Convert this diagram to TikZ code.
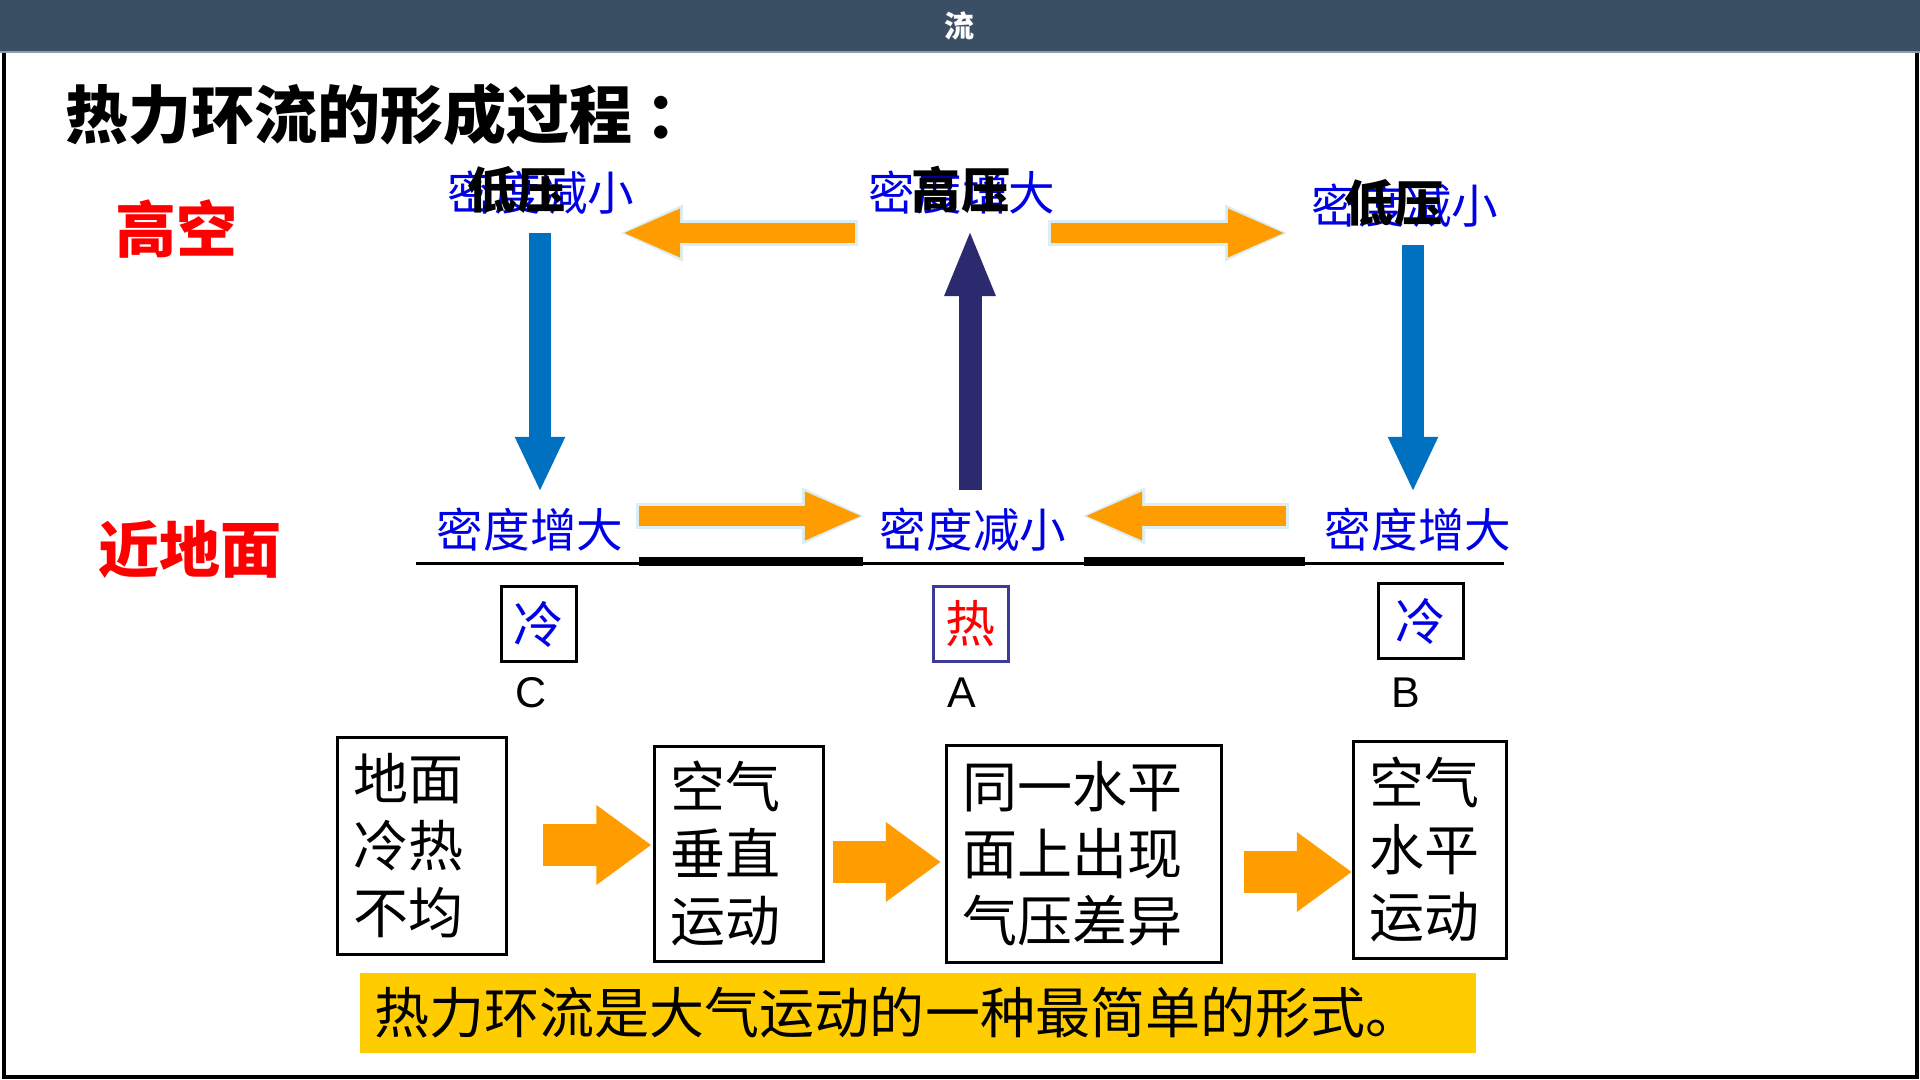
\documentclass[tikz,border=0pt]{standalone}
\usepackage{fontspec}
\setmainfont{Noto Sans CJK SC}
\newfontfamily\latinfont{Liberation Sans}
\usetikzlibrary{arrows.meta,calc}
\definecolor{barblue}{HTML}{3B4F64}
\definecolor{barline}{HTML}{8E9AA6}
\definecolor{densblue}{HTML}{0000E6}
\definecolor{hotred}{HTML}{FF0000}
\definecolor{downblue}{HTML}{0070C0}
\definecolor{upnavy}{HTML}{2B2A6E}
\definecolor{flowor}{HTML}{FF9C00}
\definecolor{flowedge}{HTML}{DAEEF3}
\definecolor{noteyellow}{HTML}{FFCC00}
\definecolor{hotframe}{HTML}{3C3C96}

\begin{document}
\begin{tikzpicture}[x=0.01cm,y=-0.01cm,
    denslabel/.style={text=densblue,inner sep=0,font=\fontsize{0.465cm}{0.5cm}\selectfont},
    presslabel/.style={inner sep=0,font=\fontsize{0.49cm}{0.5cm}\selectfont\bfseries},
    levellabel/.style={text=hotred,inner sep=0,font=\fontsize{0.61cm}{0.65cm}\selectfont\bfseries},
    tempbox/.style={draw,line width=0.03cm,minimum width=0.74cm,minimum height=0.74cm,inner sep=0,font=\fontsize{0.50cm}{0.52cm}\selectfont},
    pointlabel/.style={inner sep=0,font=\latinfont\fontsize{0.43cm}{0.45cm}\selectfont},
    stepbox/.style={draw,line width=0.03cm,minimum height=2.16cm,inner ysep=0,inner xsep=0.16cm,align=left,font=\fontsize{0.55cm}{0.67cm}\selectfont},
    sinkarrow/.style={downblue,line width=0.22cm,-{Triangle[length=0.55cm,width=0.46cm]}},
    risearrow/.style={upnavy,line width=0.23cm,-{Triangle[length=0.67cm,width=0.46cm]}},
    flowline/.style={flowor,line width=0.20cm,-{Triangle[length=0.58cm,width=0.44cm]},
      preaction={draw=flowedge,line width=0.26cm,shorten >=-0.03cm,shorten <=-0.03cm,-{Triangle[length=0.64cm,width=0.52cm]}}},
    steparrow/.style={flowor,line width=0.42cm,-{Triangle[length=0.55cm,width=0.76cm]}}]
    \useasboundingbox (0,0) rectangle (1920,1080);

    % Title bar and frame
    \fill[barblue] (0,0) rectangle (1920,51);
    \fill[barline] (0,51) rectangle (1920,53);
    \node[text=white,font=\fontsize{0.30cm}{0.32cm}\selectfont\bfseries] (bartitle) at (960,26) {流};
    \draw[line width=0.04cm] (4,53) -- (4,1077) -- (1917,1077) -- (1917,53);
    \node[anchor=west,inner sep=0,font=\fontsize{0.63cm}{0.65cm}\selectfont\bfseries] (heading) at (65,114) {热力环流的形成过程\hspace{0.12cm}：};

    % Level labels
    \node[levellabel] (high) at (177,229) {高空};
    \node[levellabel] (near) at (190,549) {近地面};

    % Upper air labels
    \node[denslabel] (upL) at (541,193) {密度减小};
    \node[denslabel] (upM) at (962,193) {密度增大};
    \node[denslabel] (upR) at (1405,206) {密度减小};
    \node[presslabel] (lowpL) at (517,190) {低压};
    \node[presslabel] (highp) at (961,190) {高压};
    \node[presslabel] (lowpR) at (1394,203) {低压};

    % Near surface labels
    \node[denslabel] (lowL) at (530,530) {密度增大};
    \node[denslabel] (lowM) at (973,530) {密度减小};
    \node[denslabel] (lowR) at (1418,530) {密度增大};

    % Ground line
    \draw[line width=0.03cm] (416,564) -- (1504,564);
    \fill (639,557) rectangle (863,566);
    \fill (1084,557) rectangle (1305,566);

    % Vertical motion
    \draw[sinkarrow] ($(upL)+(-1,40)$) -- ($(lowL)+(10,-38)$);
    \draw[risearrow] ($(lowM)+(-3,-40)$) -- ($(upM)+(8,36)$);
    \draw[sinkarrow] ($(upR)+(8,39)$) -- ($(lowR)+(-5,-38)$);

    % Horizontal motion aloft and near surface
    \draw[flowline] ($(upM)+(-107,40)$) -- ($(upL)+(81,40)$);
    \draw[flowline] ($(upM)+(89,40)$) -- ($(upR)+(-119,27)$);
    \draw[flowline] ($(lowL)+(109,-14)$) -- ($(lowM)+(-110,-14)$);
    \draw[flowline] ($(lowR)+(-132,-14)$) -- ($(lowM)+(111,-14)$);

    % Surface temperature
    \node[tempbox,text=densblue] (coldC) at (539,624) {冷};
    \node[tempbox,draw=hotframe,text=hotred] (hotA) at (971,624) {热};
    \node[tempbox,text=densblue,minimum width=0.84cm] (coldB) at (1421,621) {冷};
    \node[pointlabel] (ptC) at (531,693) {C};
    \node[pointlabel] (ptA) at (962,693) {A};
    \node[pointlabel] (ptB) at (1406,693) {B};

    % Process chain
    \node[stepbox,text width=1.37cm,minimum height=2.17cm] (b1) at (422,846) {地面\\冷热\\不均};
    \node[stepbox,text width=1.36cm,minimum height=2.15cm] (b2) at (739,854) {空气\\垂直\\运动};
    \node[stepbox,text width=2.43cm] (b3) at (1084,854) {同一水平\\面上出现\\气压差异};
    \node[stepbox,text width=1.21cm,minimum height=2.17cm] (b4) at (1430,850) {空气\\水平\\运动};
    \draw[steparrow] ($(b1.east)+(35,-1)$) -- ($(b2.west)+(-2,-9)$);
    \draw[steparrow] ($(b2.east)+(8,8)$) -- ($(b3.west)+(-4,8)$);
    \draw[steparrow] ($(b3.east)+(21,18)$) -- ($(b4.west)+(0,22)$);

    % Summary
    \node[fill=noteyellow,text width=10.86cm,inner xsep=0.15cm,inner ysep=0,minimum height=0.80cm,align=left,font=\fontsize{0.55cm}{0.6cm}\selectfont] (note) at (918,1013) {热力环流是大气运动的一种最简单的形式。};
\end{tikzpicture}
\end{document}
